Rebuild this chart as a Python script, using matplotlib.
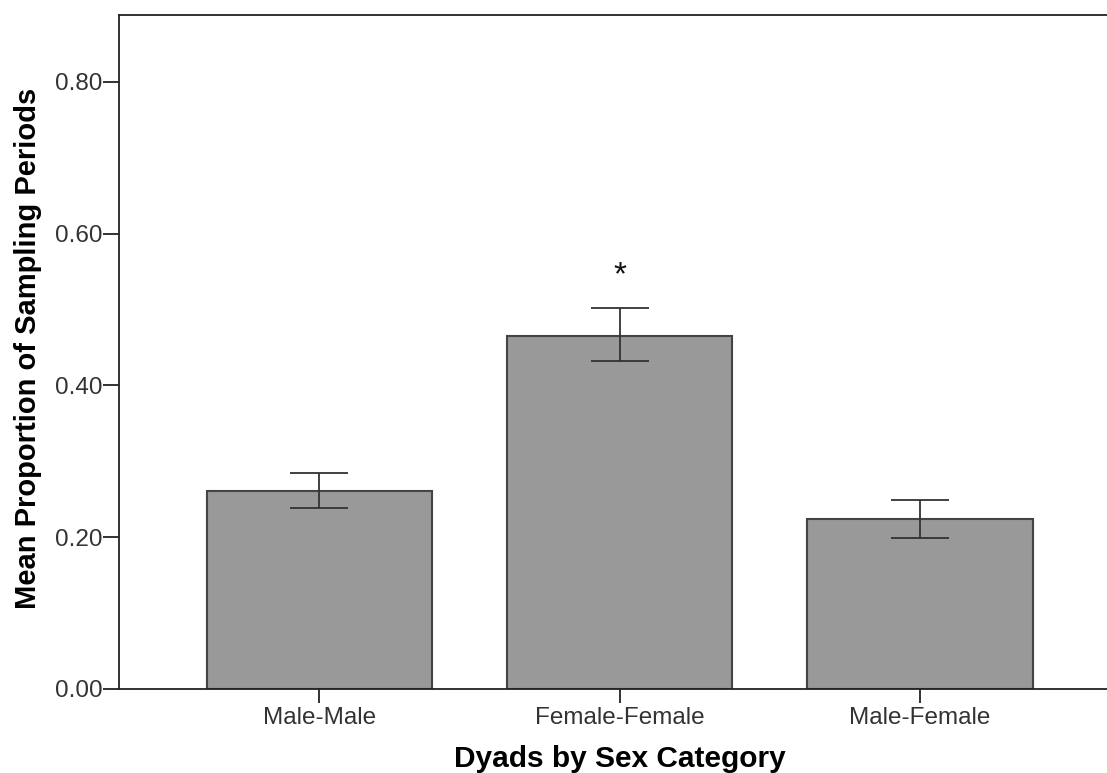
import matplotlib
matplotlib.use('Agg')
import matplotlib.pyplot as plt
import numpy as np

plt.rcParams['font.family'] = ['Liberation Sans', 'DejaVu Sans']

# Mean proportion per dyad type, with error bar bounds
categories = ['Male-Male', 'Female-Female', 'Male-Female']
means = [0.261, 0.465, 0.224]
err_low = [0.239, 0.432, 0.199]
err_high = [0.285, 0.502, 0.249]
y_ticks = [0.0, 0.2, 0.4, 0.6, 0.8]
marked = 'Female-Female'

x = np.arange(len(categories))
means_arr = np.array(means)
yerr = [means_arr - np.array(err_low), np.array(err_high) - means_arr]

fig = plt.figure(figsize=(11.07, 7.73), dpi=100)
ax = fig.add_axes([0.1075, 0.1087, 0.8925, 0.8719])

ax.bar(x, means, width=0.75, color='#999999', edgecolor='#444444', linewidth=1.5, zorder=2)
ax.errorbar(x, means, yerr=yerr, fmt='none', ecolor='#333333', elinewidth=1.3,
            capsize=21, capthick=1.3, zorder=3)

i = categories.index(marked)
ax.text(x[i], err_high[i] + 0.043, '*', ha='center', va='center', fontsize=24, color='#111111')

ax.set_xlim(-0.667, 2.623)
ax.set_ylim(0, 0.888)
ax.set_yticks(y_ticks)
ax.set_yticklabels([f'{v:.2f}' for v in y_ticks])
ax.set_xticks(x)
ax.set_xticklabels(categories)

ax.spines['right'].set_visible(False)
for s in ['left', 'top', 'bottom']:
    ax.spines[s].set_color('#222222')
    ax.spines[s].set_linewidth(1.3)

ax.tick_params(axis='y', direction='out', length=11.5, width=1.3, color='#222222',
               labelsize=17.5, labelcolor='#333333', pad=0.5)
ax.tick_params(axis='x', direction='out', length=10, width=1.3, color='#222222',
               labelsize=17.5, labelcolor='#333333', pad=3)

ax.set_xlabel('Dyads by Sex Category', fontsize=21.5, fontweight='bold')
ax.set_ylabel('Mean Proportion of Sampling Periods', fontsize=21, fontweight='bold')
ax.xaxis.set_label_coords(0.507, -0.083)
ax.yaxis.set_label_coords(-0.078, 0.505)

fig.savefig('out.png', dpi=100)
plt.close(fig)
